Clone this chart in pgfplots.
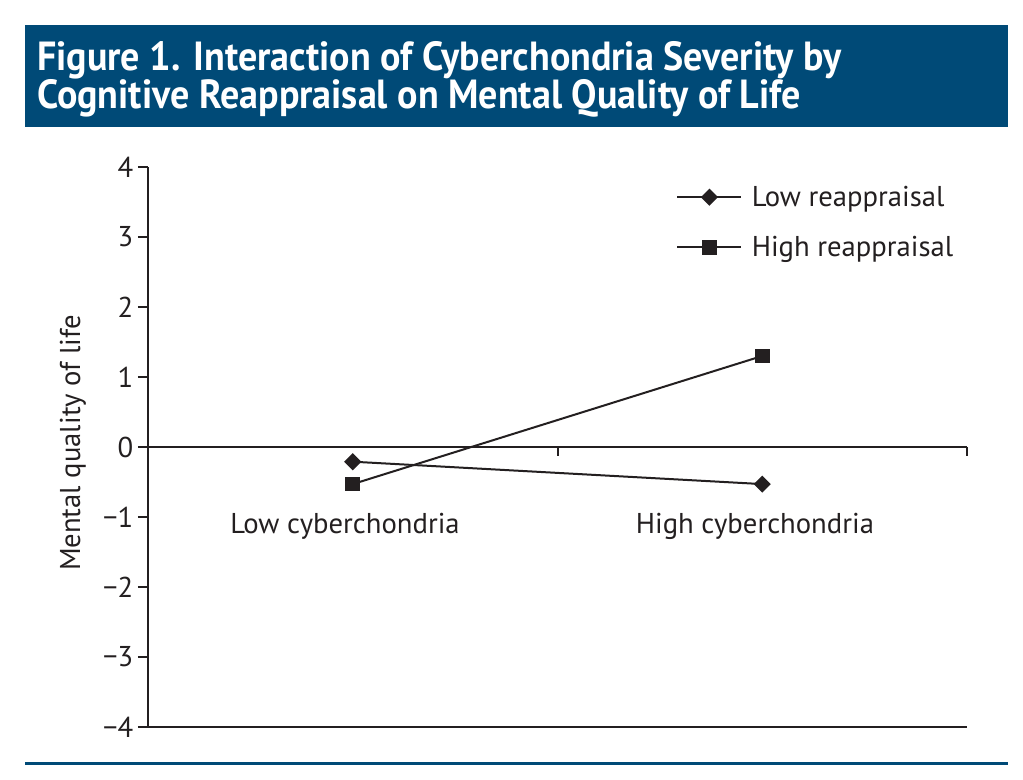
\documentclass[border=0pt]{standalone}
\usepackage{fontspec}
\setmainfont{PT Sans}
\usepackage{pgfplots}
\pgfplotsset{compat=1.18}
\definecolor{banner}{RGB}{0,74,119}
\definecolor{ink}{RGB}{35,31,32}

\begin{document}
\begin{tikzpicture}[x=0.75pt,y=0.75pt]
\useasboundingbox (0,0) rectangle (1023,780);
% title banner and bottom rule
\fill[banner] (25,653) rectangle (1008,755);
\node[anchor=base west, text=white, inner sep=0pt, font=\bfseries\fontsize{30.5}{36}\selectfont] at (37,709) {\scalebox{0.935}[1]{Figure 1. Interaction of Cyberchondria Severity by}};
\node[anchor=base west, text=white, inner sep=0pt, font=\bfseries\fontsize{30.5}{36}\selectfont] at (37,671) {\scalebox{0.935}[1]{Cognitive Reappraisal on Mental Quality of Life}};
\fill[banner] (25,15) rectangle (1008,18);

\begin{axis}[
    at={(111pt,39.75pt)}, anchor=south west,
    scale only axis, width=614.25pt, height=420pt,
    xmin=0, xmax=2, ymin=-4, ymax=4,
    axis lines*=left,
    axis line style={ink, line width=1.4pt},
    xtick=\empty,
    ytick={-4,-3,-2,-1,0,1,2,3,4},
    yticklabels={−4,−3,−2,−1,0,1,2,3,4},
    tick align=outside,
    major tick length=7.5pt,
    tick style={ink, line width=1pt},
    tick label style={font=\fontsize{21.5}{24}\selectfont, text=ink},
    /pgf/number format/assume math mode=true,
    clip=false,
    legend cell align=left,
    legend style={draw=none, fill=none, at={(rel axis cs:0.64,0.976)}, anchor=north west,
        font=\fontsize{21.5}{24}\selectfont, text=ink, row sep=17pt,
        nodes={inner sep=2pt}},
    legend image code/.code={
        \draw[mark repeat=2, mark phase=2, #1] plot coordinates {(0pt,0pt) (24pt,0pt) (48pt,0pt)};
    },
    legend style={/tikz/every odd column/.append style={column sep=5pt}},
]
\addplot[ink, line width=1.5pt, mark=square*, mark size=3.8pt, mark options={rotate=45, solid, fill=ink}]
    coordinates {(0.5,-0.21) (1.5,-0.53)};
\addlegendentry{Low reappraisal}
\addplot[ink, line width=1.5pt, mark=square*, mark size=4.8pt, mark options={solid, fill=ink}]
    coordinates {(0.5,-0.53) (1.5,1.30)};
\addlegendentry{High reappraisal}
% horizontal zero line with its two ticks
\draw[ink, line width=1.4pt] (axis cs:0,0) -- (axis cs:2,0);
\draw[ink, line width=1.5pt] (axis cs:1,0) -- ([yshift=-7pt]axis cs:1,0);
\draw[ink, line width=1.5pt] (axis cs:2,0) -- ([yshift=-7pt]axis cs:2,0);
\node[anchor=base, text=ink, font=\fontsize{21.5}{24}\selectfont] at (axis cs:0.481,-1.23) {Low cyberchondria};
\node[anchor=base, text=ink, font=\fontsize{21.5}{24}\selectfont] at (axis cs:1.482,-1.23) {High cyberchondria};
\end{axis}
\node[rotate=90, text=ink, font=\fontsize{21.5}{24}\selectfont] at (73,337) {Mental quality of life};
\end{tikzpicture}
\end{document}
